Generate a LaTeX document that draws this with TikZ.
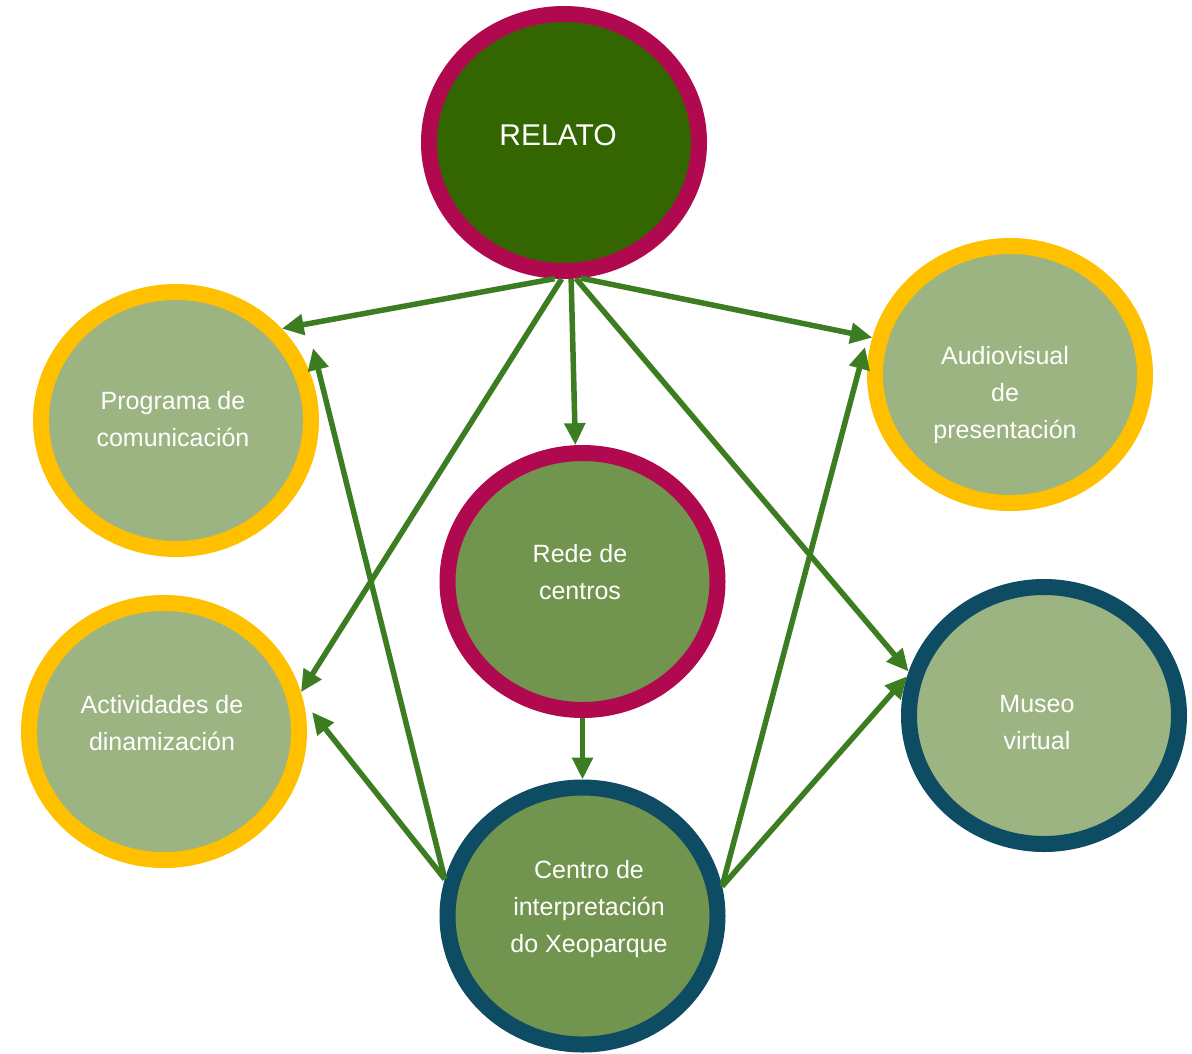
\documentclass[tikz,border=0pt]{standalone}
\usepackage{fontspec}
\setmainfont{Liberation Sans}
\usetikzlibrary{arrows.meta,shapes.geometric}
\definecolor{arrowgreen}{HTML}{3C7D22}
\definecolor{magentaring}{HTML}{B0094F}
\definecolor{yellowring}{HTML}{FFC000}
\definecolor{bluering}{HTML}{0E4C64}
\definecolor{darkfill}{HTML}{336600}
\definecolor{lightfill}{HTML}{9BB482}
\definecolor{midfill}{HTML}{71944E}
\tikzset{
  bubble/.style={ellipse, line width=16pt, inner sep=0pt, minimum width=270pt, minimum height=257pt},
  magring/.style={bubble, draw=magentaring},
  yelring/.style={bubble, draw=yellowring, fill=lightfill},
  bluring/.style={bubble, draw=bluering},
  lbl/.style={text=white, align=center, font=\fontsize{25}{37}\selectfont, inner sep=0pt},
  conn/.style={draw=arrowgreen, line width=5.5pt, -{Triangle[length=22pt,width=20pt]}}
}
\begin{document}
\begin{tikzpicture}[x=1pt,y=-1pt]
\path[use as bounding box, fill=white] (0,0) rectangle (1192,1053);

\node[magring, fill=darkfill] (relato) at (564,142.5) {};
\node[yelring] (prog) at (176,420.5) {};
\node[yelring] (audio) at (1010,374.5) {};
\node[magring, fill=midfill] (rede) at (582.5,581.5) {};
\node[yelring] (activ) at (164,731.5) {};
\node[bluring, fill=lightfill] (museo) at (1044,715.5) {};
\node[bluring, fill=midfill] (centro) at (582.5,916) {};

\node[lbl, font=\fontsize{30}{36}\selectfont] (relatotxt) at (558,135) {RELATO};
\node[lbl] (progtxt) at (173,419.5) {Programa de\\comunicación};
\node[lbl] (audiotxt) at (1005,395) {Audiovisual\\de\\presentación};
\node[lbl] (redetxt) at (580,572) {Rede de\\centros};
\node[lbl] (activtxt) at (162,723.5) {Actividades de\\dinamización};
\node[lbl] (museotxt) at (1037,723) {Museo\\virtual};
\node[lbl] (centrotxt) at (589,909.5) {Centro de\\interpretación\\do Xeoparque};

\coordinate (t7) at (313,348);
\coordinate (t8) at (312,712);
\coordinate (t9) at (865,347);

\draw[conn] (relato.-94.6) -- (prog.41.4);
\draw[conn] (relato.-83.3) -- (audio.165.6);
\draw[conn] (relato.-87.5) -- (rede.93.6);
\draw[conn] (relato.-91.7) -- (activ.16.9);
\draw[conn] (relato.-85.4) -- (museo.162.6);
\draw[conn] (rede.south) -- (centro.north);
\draw[conn] (centro.165.3) -- (t7);
\draw[conn] (centro.165) -- (t8);
\draw[conn] (centro.12.5) -- (t9);
\draw[conn] (centro.12.5) -- (museo.164.6);
\end{tikzpicture}
\end{document}
